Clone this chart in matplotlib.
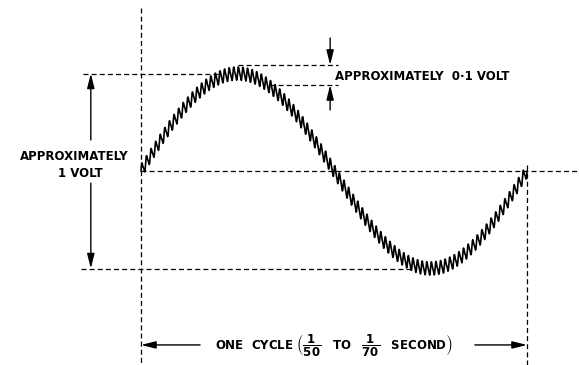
import numpy as np
import matplotlib
matplotlib.use("Agg")
import matplotlib.pyplot as plt

plt.rcParams["mathtext.default"] = "bf"

# ─── Waveform parameters (volts, time as fraction of one cycle) ───
MEAN_PEAK_V = 0.5            # ~1 V peak to peak
RIPPLE_V = 0.03              # half-height of the ripple
RIPPLES_PER_CYCLE = 84
RIPPLE_BAND_V = [0.544, 0.441]   # the "0.1 volt" marker lines

LABEL_1V = ["APPROXIMATELY", "1 VOLT"]
LABEL_01V = "APPROXIMATELY  0·1 VOLT"
LABEL_CYCLE = r"ONE  CYCLE $\left(\dfrac{1}{50}\ \ \ TO\ \ \ \dfrac{1}{70}\ \ \ SECOND\right)$"

t = np.linspace(0, 1, 6000)
ph = 2 * np.pi * RIPPLES_PER_CYCLE * t
wave = MEAN_PEAK_V * np.sin(2 * np.pi * t) + RIPPLE_V * (np.sin(ph) + 0.3 * np.sin(2 * ph))

fig = plt.figure(figsize=(5.79, 3.65), dpi=100)
ax = fig.add_axes([0, 0, 1, 1])
ax.set_xlim(-141 / 386, 438 / 386)
ax.set_ylim(-194 / 195, 171 / 195)
ax.axis("off")

dash = dict(color="black", lw=0.9, dashes=(4, 2.5))

# guide lines
ax.plot([0, 0], [0.836, -1.0], **dash)
ax.plot([1, 1], [0.03, -1.0], **dash)
ax.plot([0, 1.14], [0, 0], **dash)
ax.plot([-0.150, 0.20], [MEAN_PEAK_V, MEAN_PEAK_V], **dash)
ax.plot([-0.155, 0.697], [-MEAN_PEAK_V, -MEAN_PEAK_V], **dash)
ax.plot([0.251, 0.510], [RIPPLE_BAND_V[0]] * 2, **dash)
ax.plot([0.334, 0.510], [RIPPLE_BAND_V[1]] * 2, **dash)

# the wave
ax.plot(t, wave, color="black", lw=1.2, zorder=5)

arrow = dict(arrowstyle="-|>,head_length=0.8,head_width=0.2", color="black",
             lw=1.0, shrinkA=0, shrinkB=0, mutation_scale=11)

# 1 volt arrows
ax.annotate("", xy=(-0.130, MEAN_PEAK_V), xytext=(-0.130, 0.159), arrowprops=arrow)
ax.annotate("", xy=(-0.130, -MEAN_PEAK_V), xytext=(-0.130, -0.062), arrowprops=arrow)
txt = dict(fontsize=8.5, fontweight="bold", color="black", family="DejaVu Sans")
ax.text(-0.174, 0.072, LABEL_1V[0], ha="center", va="center", **txt)
ax.text(-0.158, -0.015, LABEL_1V[1], ha="center", va="center", **txt)

# 0.1 volt arrows
ax.annotate("", xy=(0.490, RIPPLE_BAND_V[0]), xytext=(0.490, 0.682), arrowprops=arrow)
ax.annotate("", xy=(0.490, RIPPLE_BAND_V[1]), xytext=(0.490, 0.313), arrowprops=arrow)
ax.text(0.503, 0.487, LABEL_01V, ha="left", va="center", **txt)

# one cycle
ax.annotate("", xy=(0, -0.892), xytext=(0.153, -0.892), arrowprops=arrow)
ax.annotate("", xy=(1, -0.892), xytext=(0.865, -0.892), arrowprops=arrow)
ax.text(0.5, -0.892, LABEL_CYCLE, ha="center", va="center", **txt)

fig.savefig("out.png", dpi=100)
